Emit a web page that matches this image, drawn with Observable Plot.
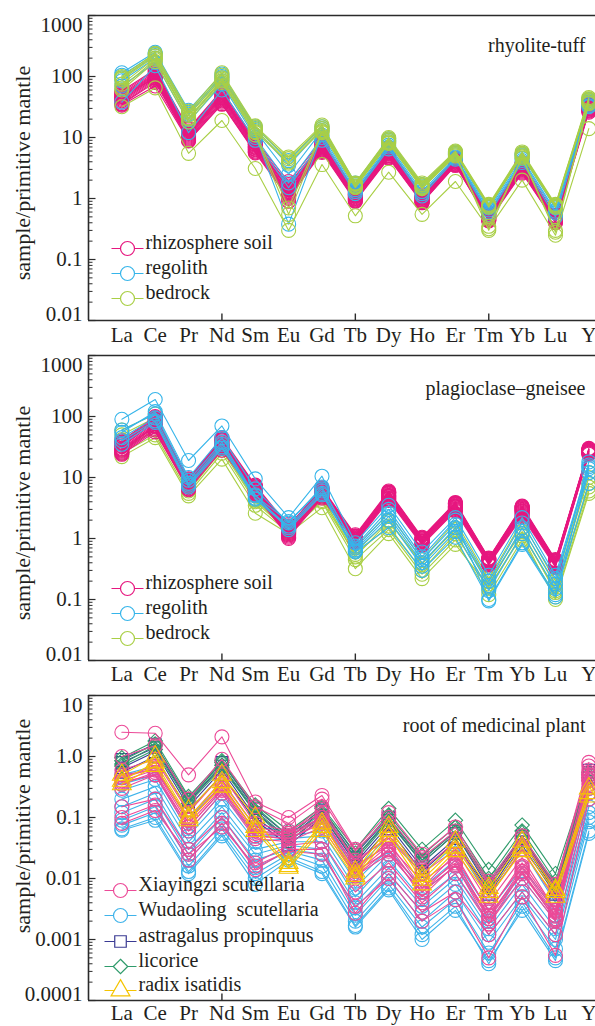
<!DOCTYPE html>
<html><head><meta charset="utf-8">
<script src="https://cdn.jsdelivr.net/npm/d3@7"></script>
<script src="https://cdn.jsdelivr.net/npm/@observablehq/plot@0.6"></script>
<style>
html,body{margin:0;padding:0;background:#fff;overflow:hidden;}
#wrap{position:relative;width:595px;height:1026px;overflow:hidden;background:#fff;}
.pan{position:absolute;left:0;width:595px;}
.pan svg{overflow:visible;background:transparent;font-family:"Liberation Serif","Times New Roman",serif !important;}
.pan svg text{white-space:pre;font-family:"Liberation Serif","Times New Roman",serif !important;}
</style></head><body><div id="wrap"></div>
<script>
// ---------- data ----------
const elements = ["La","Ce","Pr","Nd","Sm","Eu","Gd","Tb","Dy","Ho","Er","Tm","Yb","Lu","Y"];
const yTicksRock = [0.01, 0.1, 1, 10, 100, 1000];
const yTickLabelsRock = ["0.01","0.1","1","10","100","1000"];
const yTicksPlant = [0.0001, 0.001, 0.01, 0.1, 1, 10];
const yTickLabelsPlant = ["0.0001","0.001","0.01","0.1","1.0","10"];
const panelTitles = ["rhyolite-tuff", "plagioclase\u2013gneisee", "root of medicinal plant"];
const rockLegend = ["rhizosphere soil", "regolith", "bedrock"];
const plantLegend = ["Xiayingzi scutellaria", "Wudaoling  scutellaria", "astragalus propinquus", "licorice", "radix isatidis"];

// panel 1: rhyolite-tuff
const rhyoSoil = [
  [55,125,13.5,58,8.5,1.7,8.2,1.25,6.5,1.1,4.5,0.55,3.8,0.52,35],
  [52,118,12.8,55,8.2,1.6,7.9,1.2,6.2,1.08,4.4,0.54,3.7,0.5,34],
  [50,112,12.2,52,7.8,1.5,7.6,1.16,6.0,1.05,4.3,0.53,3.5,0.49,33],
  [48,108,11.8,50,7.5,1.45,7.4,1.12,5.8,1.02,4.2,0.51,3.4,0.48,32],
  [46,104,11.3,48,7.2,1.4,7.1,1.1,5.6,1.0,4.1,0.5,3.3,0.47,31],
  [44,100,10.9,46,7.0,1.3,6.9,1.07,5.5,0.97,4.0,0.49,3.2,0.46,30],
  [42,96,10.5,44,6.8,1.25,6.7,1.03,5.3,0.95,3.9,0.48,3.1,0.45,30],
  [40,92,10.1,42,6.5,1.2,6.5,1.0,5.1,0.92,3.8,0.47,3.0,0.44,29],
  [38,88,9.7,40,6.3,1.15,6.3,0.98,5.0,0.9,3.7,0.46,2.9,0.43,28],
  [36,84,9.3,38,6.0,1.1,6.1,0.95,4.8,0.88,3.6,0.45,2.8,0.42,28],
  [35,80,9.0,36,5.8,1.05,5.9,0.92,4.7,0.86,3.5,0.44,2.7,0.41,27],
  [58,130,14,60,9,1.9,9,1.3,6.8,1.15,4.6,0.57,3.9,0.53,36],
  [34,70,8.8,35,5.6,1.0,5.7,0.9,4.6,0.85,3.5,0.43,2.6,0.4,26],
  [47,95,12,45,7.8,0.9,8.5,1.15,6.3,1.05,4.3,0.5,3.5,0.47,32]
];
const rhyoRegolith = [
  [115,250,28,110,15,4.2,15,1.8,9.5,1.7,5.8,0.75,5.5,0.75,42],
  [105,235,26,100,14,3.5,14,1.7,9,1.6,5.5,0.72,5.2,0.72,40],
  [95,220,24,95,13,2.5,13,1.6,8.5,1.5,5.2,0.7,5,0.7,38],
  [85,200,20,85,11,0.38,11,1.4,7.5,1.3,4.8,0.65,4.5,0.62,35],
  [70,170,18,75,10,1.8,10,1.3,7,1.2,4.6,0.6,4.2,0.58,33],
  [38,150,12,60,9,1.5,9,1.2,6.5,1.1,4.4,0.55,3.9,0.5,32]
];
const rhyoBedrock = [
  [100,240,27,115,15.5,4.8,16,1.8,10,1.8,6,0.8,5.8,0.8,45],
  [95,230,25,105,14.5,4.5,15,1.75,9.5,1.7,5.8,0.78,5.5,0.78,43],
  [90,215,23,95,13.5,4.0,14,1.7,9,1.65,5.6,0.75,5.3,0.75,41],
  [75,200,21,90,12.5,3.8,13,1.6,8.5,1.55,5.4,0.72,5,0.72,39],
  [65,190,20,85,12,0.7,12.5,1.55,8.2,1.5,5.2,0.3,4.8,0.3,37],
  [60,175,18,80,11,0.55,12,1.5,8,1.45,5,0.35,4.6,0.28,36],
  [32,65,5.5,19,3.1,0.3,3.6,0.52,2.7,0.55,1.9,0.32,2.0,0.25,14]
];

// panel 2: plagioclase-gneisee
const gneissSoil = [
  [40,100,9.5,45,7.5,1.6,6.8,1.15,6.0,1.05,3.9,0.48,3.4,0.45,30],
  [38,96,9.2,43,7.2,1.55,6.6,1.1,5.8,1.02,3.8,0.47,3.3,0.44,29],
  [36,92,8.9,41,7.0,1.5,6.4,1.08,5.7,1.0,3.7,0.46,3.2,0.43,29],
  [35,88,8.6,40,6.8,1.45,6.2,1.05,5.5,0.98,3.6,0.45,3.1,0.42,28],
  [33,84,8.3,38,6.6,1.4,6.0,1.02,5.3,0.95,3.5,0.44,3.0,0.41,28],
  [32,80,8.0,37,6.4,1.35,5.8,1.0,5.1,0.92,3.4,0.43,2.9,0.4,27],
  [30,76,7.7,35,6.2,1.3,5.6,0.97,5.0,0.9,3.3,0.42,2.8,0.39,27],
  [29,72,7.4,34,6.0,1.25,5.4,0.95,4.8,0.88,3.2,0.41,2.7,0.38,26],
  [27,68,7.1,32,5.8,1.2,5.2,0.92,4.6,0.85,3.1,0.4,2.6,0.37,26],
  [26,64,6.8,31,5.6,1.15,5.0,0.9,4.5,0.83,3.0,0.39,2.5,0.36,25],
  [25,60,6.5,30,5.4,1.1,4.8,0.88,4.4,0.8,2.9,0.38,2.4,0.35,25],
  [24,56,6.3,28,5.2,1.05,4.6,0.85,4.2,0.78,2.8,0.37,2.3,0.34,24],
  [37,90,8.8,42,7.1,1.0,6.3,1.1,5.6,1.0,3.7,0.46,3.2,0.43,29],
  [28,70,7.5,33,6.1,1.7,5.5,0.96,4.9,0.9,3.3,0.42,2.8,0.39,27]
];
const gneissRegolith = [
  [90,190,19,70,9.5,2.2,10.5,0.85,3.5,0.6,2.2,0.25,2.2,0.25,16],
  [55,120,10,45,6.5,1.8,7,0.7,2.6,0.45,1.7,0.2,1.8,0.22,14],
  [45,95,8,35,4.6,1.6,6,0.62,2.0,0.35,1.3,0.14,1.2,0.15,12],
  [40,85,7.5,32,4.4,1.5,5.5,0.6,1.5,0.3,1.05,0.1,0.85,0.12,8],
  [60,110,9,38,5,1.9,6.5,0.75,3.0,0.5,2.0,0.095,0.8,0.11,15],
  [35,80,7,30,5.2,1.4,5.2,0.65,2.3,0.4,1.5,0.17,1.5,0.18,18]
];
const gneissBedrock = [
  [60,110,8.5,35,5,1.5,5.2,0.7,2.6,0.45,1.9,0.22,1.9,0.2,12],
  [50,95,7,30,4.2,1.4,4.6,0.6,2.0,0.38,1.5,0.18,1.5,0.17,10],
  [28,60,6,28,4,1.3,4.2,0.55,1.6,0.3,1.2,0.15,1.2,0.14,8],
  [22,45,5,20,2.6,1.2,3.2,0.32,1.2,0.22,0.8,0.16,1.1,0.1,5.5],
  [42,85,7.5,32,4.5,1.35,5,0.5,1.9,0.4,1.4,0.2,1.3,0.13,7],
  [25,50,5.5,25,3.5,1.25,4,0.45,1.4,0.26,0.95,0.12,0.95,0.11,6]
];

// panel 3: root of medicinal plant
const xiayingzi = [
  [2.5,2.4,0.5,2.1,0.18,0.1,0.23,0.03,0.12,0.025,0.07,0.009,0.05,0.008,0.8],
  [1.0,1.5,0.2,0.9,0.15,0.08,0.2,0.028,0.1,0.022,0.06,0.008,0.045,0.007,0.7],
  [0.6,0.9,0.12,0.5,0.08,0.06,0.12,0.02,0.045,0.012,0.03,0.004,0.022,0.003,0.5],
  [0.45,0.7,0.09,0.35,0.06,0.05,0.1,0.016,0.035,0.009,0.022,0.003,0.016,0.0028,0.45],
  [0.35,0.55,0.07,0.28,0.05,0.045,0.08,0.013,0.028,0.007,0.018,0.0025,0.013,0.0024,0.4],
  [0.3,0.5,0.06,0.25,0.045,0.04,0.07,0.011,0.025,0.006,0.016,0.0022,0.012,0.0022,0.35],
  [0.15,0.2,0.03,0.1,0.018,0.035,0.04,0.006,0.018,0.004,0.012,0.0018,0.01,0.002,0.3],
  [0.1,0.16,0.02,0.08,0.014,0.03,0.03,0.0027,0.012,0.0028,0.006,0.0012,0.006,0.0012,0.25],
  [0.08,0.13,0.025,0.07,0.016,0.028,0.025,0.0035,0.01,0.002,0.0045,0.0005,0.005,0.00055,0.2],
  [0.5,0.6,0.1,0.4,0.07,0.055,0.15,0.018,0.05,0.014,0.04,0.005,0.03,0.0045,0.6],
  [0.4,0.6,0.08,0.3,0.055,0.05,0.09,0.012,0.035,0.006,0.02,0.0022,0.015,0.0025,0.5],
  [0.45,0.65,0.09,0.33,0.06,0.055,0.1,0.014,0.04,0.007,0.025,0.0028,0.018,0.003,0.55],
  [0.38,0.5,0.07,0.28,0.05,0.045,0.085,0.011,0.03,0.005,0.017,0.0018,0.013,0.0021,0.42]
];
const wudaoling = [
  [0.35,0.5,0.06,0.25,0.05,0.05,0.06,0.009,0.03,0.007,0.02,0.003,0.015,0.003,0.3],
  [0.28,0.42,0.05,0.2,0.04,0.045,0.05,0.007,0.025,0.006,0.016,0.0025,0.012,0.0025,0.25],
  [0.2,0.32,0.04,0.15,0.03,0.04,0.04,0.005,0.02,0.0045,0.012,0.002,0.01,0.002,0.2],
  [0.15,0.25,0.03,0.12,0.025,0.035,0.03,0.004,0.015,0.0035,0.01,0.0015,0.008,0.0015,0.15],
  [0.12,0.2,0.025,0.1,0.02,0.03,0.025,0.0033,0.012,0.0028,0.008,0.0012,0.006,0.0012,0.12],
  [0.09,0.15,0.02,0.08,0.015,0.028,0.02,0.0025,0.01,0.002,0.006,0.0009,0.005,0.001,0.1],
  [0.075,0.12,0.016,0.065,0.012,0.025,0.016,0.002,0.008,0.0016,0.0045,0.0006,0.004,0.0007,0.085],
  [0.065,0.1,0.013,0.055,0.01,0.022,0.013,0.0017,0.007,0.0012,0.0035,0.0004,0.0035,0.0005,0.06],
  [0.062,0.09,0.012,0.05,0.008,0.02,0.012,0.0016,0.0065,0.001,0.003,0.00045,0.003,0.00045,0.055],
  [0.5,0.7,0.09,0.4,0.07,0.06,0.09,0.014,0.05,0.012,0.035,0.005,0.03,0.004,0.5]
];
const astragalus = [
  [0.9,1.6,0.2,0.8,0.14,0.05,0.14,0.025,0.1,0.02,0.06,0.008,0.05,0.007,0.6],
  [0.8,1.4,0.18,0.7,0.12,0.045,0.13,0.022,0.09,0.018,0.055,0.007,0.045,0.0065,0.55],
  [0.65,1.2,0.15,0.6,0.1,0.04,0.11,0.018,0.075,0.015,0.045,0.006,0.04,0.006,0.5],
  [0.55,1.0,0.13,0.5,0.09,0.035,0.1,0.016,0.065,0.013,0.04,0.0055,0.035,0.0055,0.45]
];
const licorice = [
  [0.95,1.8,0.22,0.85,0.16,0.06,0.15,0.03,0.14,0.03,0.09,0.014,0.075,0.012,0.55],
  [0.85,1.6,0.2,0.8,0.15,0.05,0.14,0.026,0.11,0.024,0.07,0.01,0.06,0.009,0.5],
  [0.75,1.5,0.19,0.72,0.13,0.045,0.12,0.022,0.095,0.02,0.06,0.009,0.05,0.008,0.45],
  [0.7,1.3,0.17,0.65,0.12,0.04,0.11,0.02,0.085,0.018,0.055,0.008,0.045,0.0075,0.4]
];
const radixIsatidis = [
  [0.5,1.0,0.13,0.5,0.1,0.018,0.08,0.013,0.07,0.011,0.04,0.007,0.04,0.0065,0.3],
  [0.4,0.8,0.1,0.38,0.07,0.016,0.07,0.011,0.06,0.0095,0.032,0.006,0.032,0.006,0.25],
  [0.35,0.7,0.09,0.32,0.06,0.015,0.06,0.01,0.05,0.008,0.028,0.005,0.028,0.005,0.22]
];

// ---------- styling ----------
const FONT = "'Liberation Serif', 'Times New Roman', serif";
const INK = "#231f20";
const FRAME = "#2b2b2b";
const C = {soil:"#e6177f", regolith:"#36b5ea", bedrock:"#a9cf45",
           xia:"#ec4a98", wu:"#3fb3ea", ast:"#3a3a93", lic:"#2f9b6b", rad:"#f5c400"};

const hTick = len => ({draw(ctx){ ctx.moveTo(0,0); ctx.lineTo(len,0); }});
const vTick = len => ({draw(ctx){ ctx.moveTo(0,0); ctx.lineTo(0,-len); }});
const seg = half => ({draw(ctx){ ctx.moveTo(-half,0); ctx.lineTo(half,0); }});

function makePanel(cfg) {
  const [y0, y1] = cfg.yDomain;
  const minors = [];
  for (let e = Math.log10(y0); e < Math.log10(y1); e++) for (let k = 2; k <= 9; k++) minors.push(k * Math.pow(10, e));
  const marks = [];
  // data
  for (const g of cfg.drawOrder) {
    const rows = g.series.flatMap((vals, si) => vals.map((v, i) => ({id: si, x: i + 1, v})));
    marks.push(Plot.line(rows, {x: "x", y: "v", z: "id", stroke: g.color, strokeWidth: 1.1}));
    marks.push(Plot.dot(rows, {x: "x", y: "v", stroke: g.color, symbol: g.symbol, r: g.r, strokeWidth: 1.1, fill: "none"}));
  }
  // frame
  marks.push(Plot.ruleY(cfg.yDomain, {stroke: FRAME, strokeWidth: 1.6}));
  marks.push(Plot.ruleX([0], {stroke: FRAME, strokeWidth: 1.6}));
  // inward ticks
  marks.push(Plot.dot(minors, {y: d => d, frameAnchor: "left", symbol: hTick(4), r: 1, stroke: FRAME, strokeWidth: 1}));
  marks.push(Plot.dot(cfg.yTicks, {y: d => d, frameAnchor: "left", symbol: hTick(7), r: 1, stroke: FRAME, strokeWidth: 1.2}));
  marks.push(Plot.dot([4, 8, 12], {x: d => d, frameAnchor: "bottom", symbol: vTick(7), r: 1, stroke: FRAME, strokeWidth: 1.4}));
  // y tick labels
  const n = cfg.yTicks.length;
  const lab = d => cfg.yLabels[cfg.yTicks.indexOf(d)];
  marks.push(Plot.text(cfg.yTicks.slice(1, n - 1), {y: d => d, text: lab, frameAnchor: "left", textAnchor: "end", dx: -6, fontSize: 21, fill: INK}));
  marks.push(Plot.text([cfg.yTicks[0]], {y: d => d, text: lab, frameAnchor: "left", textAnchor: "end", dx: -6, dy: -6, fontSize: 21, fill: INK}));
  marks.push(Plot.text([cfg.yTicks[n - 1]], {y: d => d, text: lab, frameAnchor: "left", textAnchor: "end", dx: -6, dy: 10, fontSize: 21, fill: INK}));
  // x tick labels
  marks.push(Plot.text(d3.range(1, elements.length + 1), {x: d => d, text: d => elements[d - 1], frameAnchor: "bottom", textAnchor: "middle", lineAnchor: "top", dy: cfg.xLabelDy, fontSize: 21, fill: INK}));
  // y axis title
  marks.push(Plot.text(["sample/primitive mantle"], {frameAnchor: "left", textAnchor: "middle", lineAnchor: "middle", rotate: -90, dx: -66, dy: cfg.yTitleDy, fontSize: 22, fill: INK}));
  // panel title
  marks.push(Plot.text([cfg.title], {frameAnchor: "top-right", textAnchor: "end", dx: -10, dy: cfg.titleDy, fontSize: 20, fill: INK}));
  // legend
  cfg.legend.forEach((g, i) => {
    const dy = cfg.legendDy[i];
    marks.push(Plot.dot([0], {frameAnchor: "bottom-left", dx: cfg.legendDx, dy, symbol: seg(16), r: 1, stroke: g.color, strokeWidth: 1.2}));
    marks.push(Plot.dot([0], {frameAnchor: "bottom-left", dx: cfg.legendDx, dy, symbol: g.symbol, r: g.r, stroke: g.color, strokeWidth: 1.2, fill: "white"}));
    marks.push(Plot.text([g.name], {frameAnchor: "bottom-left", textAnchor: "start", dx: cfg.legendDx + 18, dy, fontSize: 20, fill: INK}));
  });
  return Plot.plot({
    width: 595, height: cfg.height,
    marginLeft: 88, marginRight: 0, marginTop: 15, marginBottom: cfg.marginBottom,
    x: {type: "linear", domain: [0, 15.2], axis: null},
    y: {type: "log", domain: cfg.yDomain, axis: null},
    style: {fontFamily: FONT, background: "transparent", overflow: "visible"},
    marks
  });
}

const rockGroups = (soil, reg, bed) => {
  const s = {name: rockLegend[0], series: soil, color: C.soil, symbol: "circle", r: 7};
  const r = {name: rockLegend[1], series: reg, color: C.regolith, symbol: "circle", r: 7};
  const b = {name: rockLegend[2], series: bed, color: C.bedrock, symbol: "circle", r: 7};
  return {s, r, b};
};

const g1 = rockGroups(rhyoSoil, rhyoRegolith, rhyoBedrock);
const g2 = rockGroups(gneissSoil, gneissRegolith, gneissBedrock);
const pX = {name: plantLegend[0], series: xiayingzi, color: C.xia, symbol: "circle", r: 7};
const pW = {name: plantLegend[1], series: wudaoling, color: C.wu, symbol: "circle", r: 7};
const pA = {name: plantLegend[2], series: astragalus, color: C.ast, symbol: "square", r: 6.5};
const pL = {name: plantLegend[3], series: licorice, color: C.lic, symbol: "diamond2", r: 6.5};
const pI = {name: plantLegend[4], series: radixIsatidis, color: C.rad, symbol: "triangle", r: 7};

const panels = [
  {top: 0, height: 345, marginBottom: 25, yDomain: [0.01, 1000], yTicks: yTicksRock, yLabels: yTickLabelsRock,
   title: panelTitles[0], titleDy: 22, xLabelDy: 7, yTitleDy: 5,
   drawOrder: [g1.s, g1.r, g1.b], legend: [g1.s, g1.r, g1.b], legendDx: 39, legendDy: [-72, -47, -22]},
  {top: 340, height: 345, marginBottom: 25, yDomain: [0.01, 1000], yTicks: yTicksRock, yLabels: yTickLabelsRock,
   title: panelTitles[1], titleDy: 25, xLabelDy: 6, yTitleDy: 5,
   drawOrder: [g2.b, g2.s, g2.r], legend: [g2.s, g2.r, g2.b], legendDx: 39, legendDy: [-72, -47, -22]},
  {top: 680, height: 346, marginBottom: 26, yDomain: [0.0001, 10], yTicks: yTicksPlant, yLabels: yTickLabelsPlant,
   title: panelTitles[2], titleDy: 22, xLabelDy: 5, yTitleDy: -22,
   drawOrder: [pW, pA, pL, pX, pI], legend: [pX, pW, pA, pL, pI], legendDx: 32, legendDy: [-110, -85, -59, -34, -10]}
];

const wrap = document.getElementById("wrap");
for (const cfg of panels) {
  const div = document.createElement("div");
  div.className = "pan";
  div.style.top = cfg.top + "px";
  div.style.height = cfg.height + "px";
  div.appendChild(makePanel(cfg));
  wrap.appendChild(div);
}
</script></body></html>
